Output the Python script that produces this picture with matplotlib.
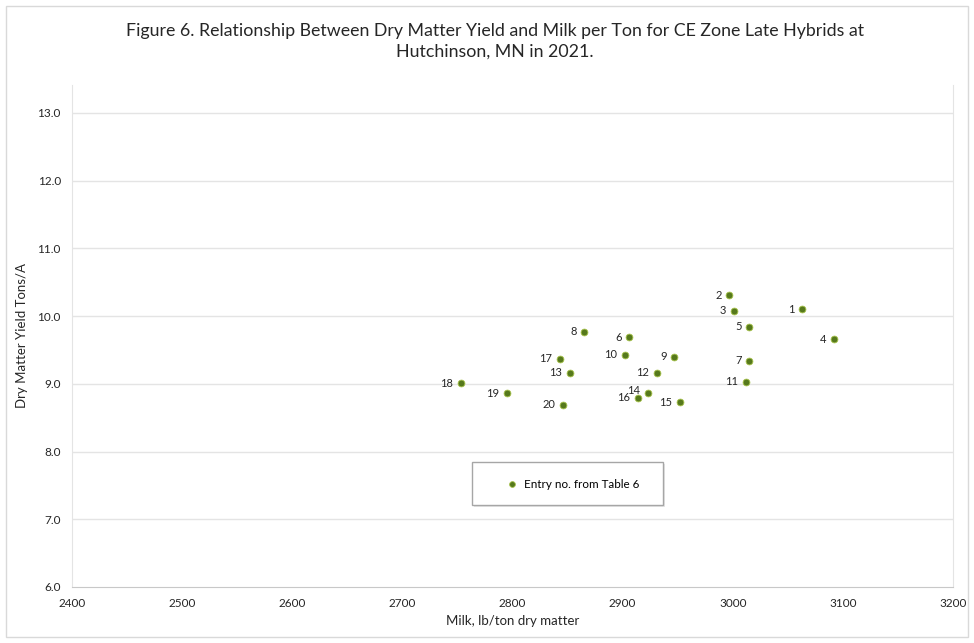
#!/usr/bin/env python3
"""Dry matter yield vs milk per ton scatter for CE zone late hybrids."""

from matplotlib import pyplot as plt
from matplotlib.patches import Rectangle

plt.rcParams["font.family"] = ["Lato", "DejaVu Sans"]

entries = list(range(1, 21))
milk = [3063, 2997, 3001, 3092, 3015, 2906, 3015, 2865, 2947, 2902,
        3012, 2931, 2852, 2923, 2952, 2914, 2843, 2753, 2795, 2846]
dm_yield = [10.10, 10.31, 10.08, 9.66, 9.84, 9.69, 9.34, 9.77, 9.40, 9.43,
            9.03, 9.16, 9.16, 8.86, 8.73, 8.79, 9.37, 9.01, 8.86, 8.69]
x_ticks = [2400, 2500, 2600, 2700, 2800, 2900, 3000, 3100, 3200]
y_ticks = [6.0, 7.0, 8.0, 9.0, 10.0, 11.0, 12.0, 13.0]

TITLE = ("Figure 6. Relationship Between Dry Matter Yield and Milk per Ton for CE Zone Late Hybrids at\n"
         "Hutchinson, MN in 2021.")
GREEN = "#56791c"
GRID = "#e4e4e4"
TEXT = "#262626"


def main() -> None:
    fig = plt.figure(figsize=(9.74, 6.43), dpi=100)
    ax = fig.add_axes([0.0739, 0.0871, 0.9045, 0.7807])

    pts = ax.scatter(milk, dm_yield, s=24, color=GREEN, edgecolors="#a6c24a",
                     linewidths=0.6, zorder=3)
    for n, x, y in zip(entries, milk, dm_yield):
        # entry 14 sits right above 16, so lift its label a touch
        dy = 2.0 if n == 14 else 0
        ax.annotate(str(n), (x, y), xytext=(-5.5, dy), textcoords="offset points",
                    ha="right", va="center", fontsize=8, color=TEXT, zorder=4)

    ax.set_xlim(x_ticks[0], x_ticks[-1])
    ax.set_ylim(6.0, 13.41)
    ax.set_xticks(x_ticks)
    ax.set_yticks(y_ticks)
    ax.set_yticklabels([f"{v:.1f}" for v in y_ticks])
    ax.tick_params(axis="both", length=0, labelsize=8.5, colors=TEXT)
    ax.tick_params(axis="y", pad=8)
    ax.tick_params(axis="x", pad=8)
    for v in y_ticks[1:]:
        ax.axhline(v, color=GRID, lw=1.0, zorder=1)

    ax.spines["top"].set_visible(False)
    ax.spines["left"].set_color(GRID)
    ax.spines["right"].set_color(GRID)
    ax.spines["bottom"].set_color("#c8c8c8")

    ax.set_xlabel("Milk, lb/ton dry matter", fontsize=9.5, color=TEXT, labelpad=4)
    ax.set_ylabel("Dry Matter Yield Tons/A", fontsize=9.5, color=TEXT, labelpad=7)

    fig.text(0.508, 0.936, TITLE, ha="center", va="center", fontsize=12.8,
             color=TEXT, linespacing=1.32)

    # legend box drawn separately so it can be wider than its contents
    box = Rectangle((472 / 974, 1 - 505 / 643), 191 / 974, 43 / 643,
                    transform=fig.transFigure, facecolor="white",
                    edgecolor="#a6a6a6", lw=1.0, zorder=5)
    shadow = Rectangle((474 / 974, 1 - 507 / 643), 191 / 974, 43 / 643,
                       transform=fig.transFigure, facecolor="#e6e6e6",
                       edgecolor="none", zorder=4)
    fig.patches.extend([shadow, box])
    leg = fig.legend([pts], ["Entry no. from Table 6"], loc="center",
                     bbox_to_anchor=(570 / 974, 1 - 484 / 643), frameon=False,
                     fontsize=8.4, handletextpad=0.05, markerscale=0.85,
                     borderpad=0.2)
    leg.set_zorder(6)

    # chart area outline
    fig.patches.append(Rectangle((6 / 974, 6 / 643), 962 / 974, 631 / 643,
                                 transform=fig.transFigure, facecolor="none",
                                 edgecolor="#d9d9d9", lw=1.0))

    fig.savefig("out.png", dpi=100)


if __name__ == "__main__":
    main()
